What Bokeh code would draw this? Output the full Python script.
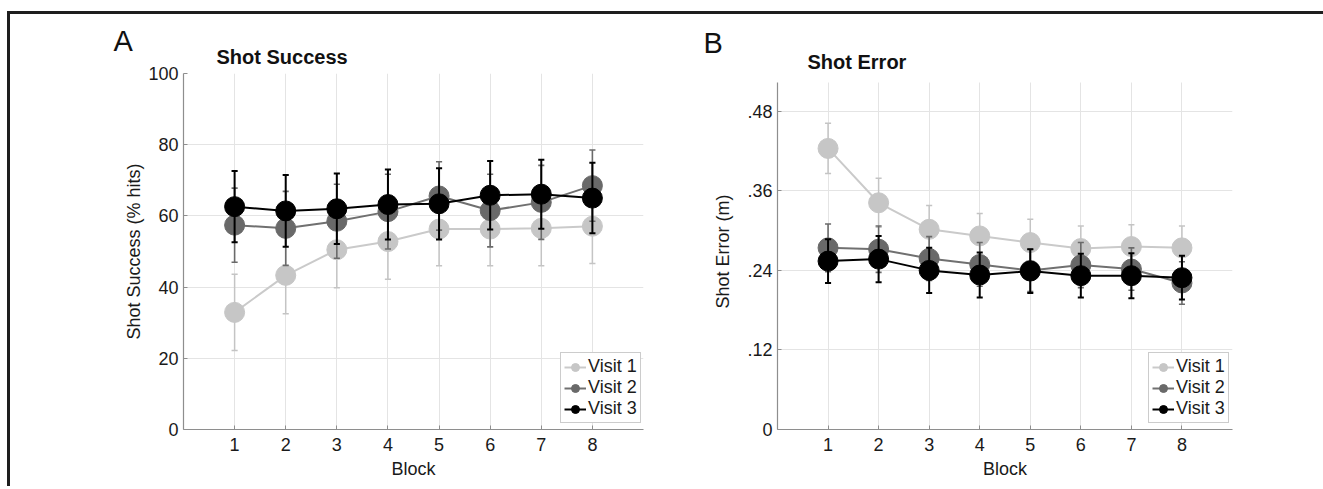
from bokeh.plotting import figure
from bokeh.layouts import row
from bokeh.models import (ColumnDataSource, FixedTicker, Legend, LegendItem,
                          Range1d, Title)
from bokeh.embed import file_html
from bokeh.resources import INLINE

# ---------------- data ----------------
blocks = [1, 2, 3, 4, 5, 6, 7, 8]
visits = ["Visit 1", "Visit 2", "Visit 3"]

success_v1 = [32.9, 43.3, 50.5, 52.8, 56.3, 56.3, 56.5, 57.1]
success_v1_err = [10.7, 10.8, 10.7, 10.6, 10.3, 10.3, 10.5, 10.5]
success_v2 = [57.4, 56.5, 58.5, 61.2, 65.6, 61.5, 63.8, 68.5]
success_v2_err = [10.4, 10.4, 10.4, 10.5, 9.6, 10.2, 10.4, 10.0]
success_v3 = [62.6, 61.4, 62.0, 63.2, 63.4, 65.8, 66.1, 65.0]
success_v3_err = [10.0, 10.1, 9.9, 9.8, 10.0, 9.6, 9.7, 9.9]

error_v1 = [0.424, 0.342, 0.302, 0.292, 0.282, 0.273, 0.276, 0.274]
error_v1_err = [0.038, 0.037, 0.036, 0.034, 0.035, 0.034, 0.033, 0.033]
error_v2 = [0.274, 0.272, 0.258, 0.249, 0.240, 0.248, 0.242, 0.221]
error_v2_err = [0.036, 0.035, 0.033, 0.033, 0.032, 0.034, 0.032, 0.032]
error_v3 = [0.254, 0.257, 0.240, 0.233, 0.239, 0.232, 0.232, 0.229]
error_v3_err = [0.033, 0.035, 0.034, 0.034, 0.033, 0.033, 0.034, 0.033]

success_ticks = [0, 20, 40, 60, 80, 100]
error_ticks = [0, 0.12, 0.24, 0.36, 0.48]
error_tick_labels = ["0", ".12", ".24", ".36", ".48"]

# ---------------- styles ----------------
FONT = "Liberation Sans"
marker_colors = ["#c6c6c6", "#696969", "#000000"]
line_colors = ["#cacaca", "#707070", "#000000"]
bar_colors = ["#c4c4c4", "#6a6a6a", "#000000"]
bar_widths = [1.5, 1.6, 2.0]
CAP = 0.06


def make_panel(letter, title, ylabel, series, errs, yend, ytop, ticks,
               overrides, width, mb_left, mb_right, title_offset,
               title_standoff, letter_offset, letter_standoff, legend_x,
               ylabel_standoff):
    p = figure(width=width, height=472, output_backend="svg",
               toolbar_location=None, x_range=Range1d(0, 9),
               y_range=Range1d(0, yend),
               min_border_left=mb_left, min_border_right=mb_right,
               min_border_top=59, min_border_bottom=57)
    p.outline_line_color = None
    p.background_fill_color = "white"
    p.border_fill_color = "white"

    # outer: panel letter; inner: panel title
    p.title = Title(text=letter, align="left", offset=letter_offset,
                    standoff=letter_standoff, text_font=FONT,
                    text_font_size="29px", text_font_style="normal",
                    text_color="#111111")
    p.add_layout(Title(text=title, align="left", offset=title_offset,
                       standoff=title_standoff, text_font=FONT,
                       text_font_size="20px", text_font_style="bold",
                       text_color="#111111"), "above")

    p.xaxis.ticker = FixedTicker(ticks=blocks)
    p.yaxis.ticker = FixedTicker(ticks=ticks)
    p.yaxis.bounds = (0, ytop)
    if overrides:
        p.yaxis.major_label_overrides = overrides
    for ax in (p.xaxis, p.yaxis):
        ax.axis_line_color = "#8e8e8e"
        ax.axis_line_width = 1.2
        ax.major_tick_line_color = "#8e8e8e"
        ax.major_tick_in = 4
        ax.major_tick_out = 0
        ax.minor_tick_line_color = None
        ax.major_label_text_font = FONT
        ax.major_label_text_font_size = "18px"
        ax.major_label_text_color = "#1a1a1a"
        ax.axis_label_text_font = FONT
        ax.axis_label_text_font_size = "18px"
        ax.axis_label_text_font_style = "normal"
        ax.axis_label_text_color = "#1a1a1a"
    p.xaxis.axis_label = "Block"
    p.xaxis.major_label_standoff = 8
    p.xaxis.axis_label_standoff = 5
    p.yaxis.axis_label = ylabel
    p.yaxis.major_label_standoff = 5
    p.yaxis.axis_label_standoff = ylabel_standoff

    p.xgrid.ticker = FixedTicker(ticks=blocks)
    p.ygrid.ticker = FixedTicker(ticks=ticks)
    p.xgrid.cross_bounds = (0, ytop)
    p.xgrid.grid_line_color = "#e4e4e4"
    p.ygrid.grid_line_color = "#e4e4e4"

    items = []
    for i, (vals, err) in enumerate(zip(series, errs)):
        src = ColumnDataSource(dict(
            x=blocks, y=vals,
            lo=[v - e for v, e in zip(vals, err)],
            hi=[v + e for v, e in zip(vals, err)],
            cl=[b - CAP for b in blocks],
            cr=[b + CAP for b in blocks],
        ))
        p.segment(x0="x", y0="lo", x1="x", y1="hi", source=src,
                  line_color=bar_colors[i], line_width=bar_widths[i])
        p.segment(x0="cl", y0="hi", x1="cr", y1="hi", source=src,
                  line_color=bar_colors[i], line_width=bar_widths[i])
        p.segment(x0="cl", y0="lo", x1="cr", y1="lo", source=src,
                  line_color=bar_colors[i], line_width=bar_widths[i])
        ln = p.line("x", "y", source=src, line_color=line_colors[i],
                    line_width=2)
        sc = p.scatter("x", "y", source=src, size=20,
                       fill_color=marker_colors[i],
                       line_color=marker_colors[i])
        items.append(LegendItem(label=visits[i], renderers=[ln, sc]))

    legend = Legend(items=items, location=(legend_x, 6))
    legend.label_text_font = FONT
    legend.label_text_font_size = "18px"
    legend.label_text_color = "#1a1a1a"
    legend.border_line_color = "#9a9a9a"
    legend.border_line_width = 1
    legend.background_fill_color = "white"
    legend.background_fill_alpha = 1
    legend.padding = 3
    legend.spacing = 0
    legend.margin = 0
    legend.glyph_width = 22
    legend.glyph_height = 20
    legend.label_height = 20
    legend.label_standoff = 2
    p.add_layout(legend, "center")
    return p


pa = make_panel("A", "Shot Success", "Shot Success (% hits)",
                [success_v1, success_v2, success_v3],
                [success_v1_err, success_v2_err, success_v3_err],
                100, 100, success_ticks, None,
                653, 173, 20, 33, 11, -70, -36, 377, 1)

pb = make_panel("B", "Shot Error", "Shot Error (m)",
                [error_v1, error_v2, error_v3],
                [error_v1_err, error_v2_err, error_v3_err],
                0.537, 0.524, error_ticks,
                dict(zip(error_ticks, error_tick_labels)),
                660, 114, 91, 30, 2, -74, -23, 371, 11)

layout = row(pa, pb, margin=(11, 0, 0, 7),
             styles={"border-top": "3px solid #1e1e1e",
                     "border-left": "3px solid #1e1e1e"})

open("out.html", "w").write(file_html(layout, INLINE))
